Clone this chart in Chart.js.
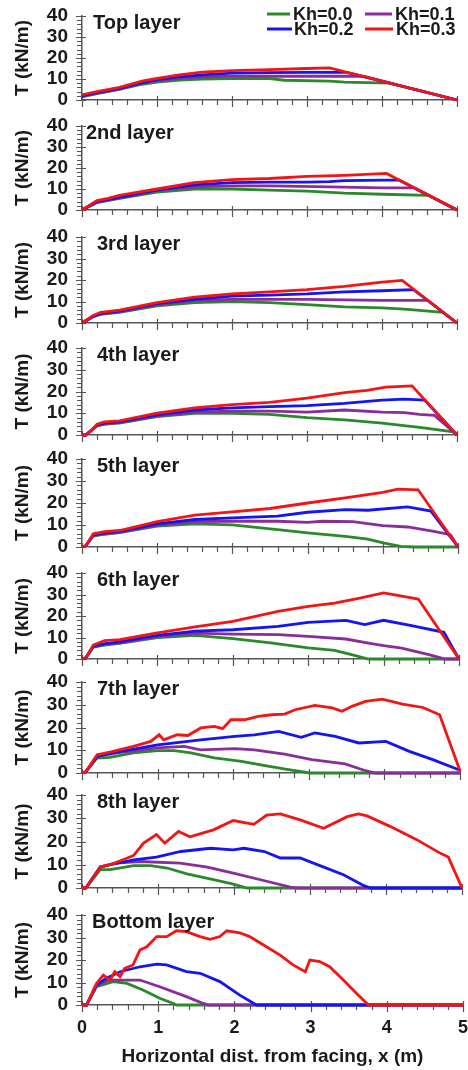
<!DOCTYPE html>
<html>
<head>
<meta charset="utf-8">
<script src="https://cdn.jsdelivr.net/npm/chart.js@4.4.1/dist/chart.umd.min.js"></script>
<style>
  html, body { margin: 0; padding: 0; background: #fff; }
  #wrap { position: relative; width: 468px; height: 1070px; overflow: hidden; }
  #wrap canvas { position: absolute; left: 0; }
</style>
</head>
<body>
<div id="wrap"></div>
<script>
// Tension T (kN/m) along each reinforcement layer, for four Kh values
const LAYERS = ['Top layer', '2nd layer', '3rd layer', '4th layer', '5th layer',
                '6th layer', '7th layer', '8th layer', 'Bottom layer'];
const KH_LABELS = ['Kh=0.0', 'Kh=0.1', 'Kh=0.2', 'Kh=0.3'];
const X_TICKS = [0, 1, 2, 3, 4, 5];
const Y_TICKS = [0, 10, 20, 30, 40];

// [x (m), T (kN/m)]
const L1_K0 = [[0,1.5],[0.2,3],[0.5,5],[0.8,7.5],[1,8.5],[1.3,9.5],[1.6,10],[2,10.2],[2.5,10.2],[2.7,9.4],[3.3,9],[3.5,8.5],[4.1,8],[5,0]];
const L1_K1 = [[0,1.8],[0.2,3.3],[0.5,5.3],[0.8,8],[1,9.2],[1.3,10.3],[1.6,11],[2,11.3],[3,11.3],[3.75,11.3],[5,0]];
const L1_K2 = [[0,2],[0.2,3.5],[0.5,5.5],[0.8,8.3],[1,9.7],[1.3,11],[1.6,12],[2,12.8],[2.5,13],[3,13.2],[3.53,13.2],[5,0]];
const L1_K3 = [[0,2.5],[0.2,4],[0.5,6],[0.8,9],[1,10.3],[1.3,12],[1.6,13.3],[2,14],[2.5,14.5],[3,15],[3.3,15.3],[5,0]];

const L2_K0 = [[0,0],[0.2,3.5],[0.5,5.5],[1,8.5],[1.5,10],[2,10],[2.5,9.5],[3,9],[3.5,8],[4,7.5],[4.62,7],[5,0]];
const L2_K1 = [[0,0],[0.2,3.8],[0.5,5.8],[1,9.3],[1.5,11],[2,11.5],[2.5,11.5],[3.3,11],[4,10.5],[4.43,10.5],[5,0]];
const L2_K2 = [[0,0],[0.2,4],[0.5,6],[1,9.5],[1.5,12],[2,13],[2.5,13.3],[3,13.3],[3.3,13.5],[3.5,14],[4,14.2],[4.23,14.2],[5,0]];
const L2_K3 = [[0,0],[0.2,4.5],[0.35,5.5],[0.5,7],[1,10],[1.5,13],[2,14.5],[2.5,15],[3,16],[3.5,16.5],[4.06,17.4],[5,0]];

const L3_K0 = [[0,0],[0.15,3],[0.25,4],[0.5,5],[1,8],[1.5,9.5],[2,10],[2.5,9.5],[3,8.5],[3.5,7.5],[4,7],[4.3,6.5],[4.81,5],[5,0]];
const L3_K1 = [[0,0],[0.15,3],[0.25,4.3],[0.5,5.3],[1,8.5],[1.5,10.5],[2,11],[3,11],[4,10.5],[4.61,10.5],[5,0]];
const L3_K2 = [[0,0],[0.15,3],[0.25,4.5],[0.5,5.5],[1,9],[1.5,11],[2,12.5],[2.5,13],[3,13.5],[3.5,14.5],[4,15],[4.42,15.5],[5,0]];
const L3_K3 = [[0,0],[0.15,3.5],[0.25,5],[0.5,6],[1,9.5],[1.5,12],[2,13.5],[2.5,14.5],[3,15.5],[3.5,17],[4,19],[4.27,19.8],[5,0]];

const L4_K0 = [[0,0],[0.05,0],[0.2,4.3],[0.3,5],[0.5,5.5],[1,8.5],[1.5,10],[2,10],[2.5,9.5],[3,8],[3.5,7],[4,5.5],[4.5,3.5],[4.95,1.5],[5,0]];
const L4_K1 = [[0,0],[0.05,0],[0.2,4.3],[0.3,5],[0.5,5.8],[1,8.8],[1.5,10.5],[2,11],[2.5,11],[3,10.5],[3.5,11.5],[4,10.5],[4.3,10.3],[4.5,9.5],[4.7,9],[5,0]];
const L4_K2 = [[0,0],[0.05,0],[0.2,4.5],[0.3,5.5],[0.5,6],[1,9.3],[1.5,11.5],[2,12.5],[2.5,13],[3,13.5],[3.5,14.5],[4,16],[4.3,16.5],[4.57,16],[5,0]];
const L4_K3 = [[0,0],[0.05,0],[0.12,2],[0.2,5],[0.3,6],[0.5,6.5],[1,10],[1.5,12.5],[2,14],[2.5,15],[3,17],[3.5,19.5],[3.8,20.5],[4.05,22],[4.4,22.6],[5,0]];

const L5_K0 = [[0,0],[0.05,0.5],[0.15,5],[0.3,5.8],[0.5,6.5],[1,9.5],[1.5,10.5],[2,10.1],[2.6,7.9],[3,6.4],[3.5,4.8],[3.8,3.6],[4.02,1.8],[4.24,0.3],[4.42,0],[5,0]];
const L5_K1 = [[0,0],[0.05,0.5],[0.15,5.3],[0.3,6],[0.5,6.8],[1,10],[1.5,11.5],[2,11.7],[2.6,11.7],[3,11.2],[3.2,11.7],[3.6,11.5],[4,9.7],[4.33,9.1],[4.68,7.1],[4.9,5.6],[5,0]];
const L5_K2 = [[0,0],[0.05,0.5],[0.15,5.5],[0.3,6.3],[0.5,7],[1,10.5],[1.5,12.5],[2,13.2],[2.6,14],[3,15.8],[3.5,17],[3.8,16.7],[4.33,18.2],[4.64,16.3],[5,0]];
const L5_K3 = [[0,0],[0.05,0.5],[0.15,6],[0.3,7],[0.5,7.5],[1,11.5],[1.5,14.5],[2,16],[2.5,17.5],[3,20],[3.5,22.3],[4,24.8],[4.2,26.3],[4.47,26],[5,0]];

const L6_K0 = [[0,0],[0.05,0.5],[0.15,5.5],[0.3,6.5],[0.5,7.3],[1,10],[1.5,11],[2,9.5],[2.5,7.5],[3,5.2],[3.35,4],[3.6,1.8],[3.8,0],[5,0]];
const L6_K1 = [[0,0],[0.05,0.5],[0.15,5.8],[0.3,7],[0.5,7.5],[1,10.5],[1.5,12],[2,11.6],[2.6,11.3],[3,10.5],[3.5,9.3],[3.8,7.4],[4,6.2],[4.24,5.1],[4.6,2],[4.82,0],[5,0]];
const L6_K2 = [[0,0],[0.05,0.5],[0.15,6],[0.3,7],[0.5,8],[1,11],[1.5,13],[2,13.6],[2.6,15.2],[3,17],[3.5,18],[3.75,16],[4,18],[4.37,15.5],[4.8,12.4],[5,0]];
const L6_K3 = [[0,0],[0.05,0.5],[0.15,6.5],[0.3,8.5],[0.5,9],[1,12.2],[1.5,14.9],[2,17.5],[2.6,22.2],[3,24.5],[3.35,26],[3.7,28.4],[4,30.7],[4.46,27.9],[5,0]];

const L7_K0 = [[0,0],[0.05,0.5],[0.2,6.6],[0.37,6.9],[0.68,8.8],[1,9.8],[1.22,9.8],[1.44,8.8],[1.75,6.6],[2.11,5.1],[2.42,3.2],[2.73,1.5],[3.02,0],[5,0]];
const L7_K1 = [[0,0],[0.05,0.5],[0.2,7.3],[0.46,8.8],[1,11],[1.35,11.7],[1.57,10.2],[2.02,10.7],[2.28,10.2],[2.68,8.3],[3.04,5.9],[3.48,4],[3.75,1],[3.88,0],[5,0]];
const L7_K2 = [[0,0],[0.05,0.5],[0.2,7.3],[0.46,9.2],[1,12.4],[1.57,14.6],[2.02,16.1],[2.28,16.8],[2.6,18.3],[2.9,15.7],[3.08,17.6],[3.35,16.1],[3.66,13.2],[4.02,13.9],[4.33,9.5],[4.64,5.9],[5,1.2]];
const L7_K3 = [[0,0],[0.05,0.5],[0.2,8],[0.37,9.2],[0.68,11.7],[0.91,13.9],[1.02,16.8],[1.08,14.6],[1.26,16.8],[1.4,16.5],[1.57,19.8],[1.75,20.5],[1.86,19.5],[1.97,23.4],[2.15,23.4],[2.33,24.9],[2.51,25.6],[2.68,25.9],[2.82,27.8],[3.08,29.7],[3.31,28.6],[3.44,27.1],[3.57,29.3],[3.75,31.5],[3.97,32.5],[4.24,30.3],[4.51,28.8],[4.73,25.6],[5,1]];

const L8_K0 = [[0,0],[0.05,0],[0.24,7.9],[0.37,7.9],[0.68,9.6],[0.9,9.6],[1.12,8.6],[1.38,6.1],[1.73,3.6],[1.99,1.7],[2.17,0],[5,0]];
const L8_K1 = [[0,0],[0.05,0],[0.24,9],[0.45,10.7],[0.76,11.4],[1.29,10.7],[1.65,9],[1.99,6.4],[2.43,2.9],[2.74,0.4],[2.83,0],[5,0]];
const L8_K2 = [[0,0],[0.05,0],[0.24,9],[0.37,10],[0.68,12.1],[0.98,13.3],[1.3,15.7],[1.69,17.1],[1.99,16.4],[2.13,17.1],[2.4,15.7],[2.61,12.9],[2.87,12.9],[3.13,9.6],[3.44,5.7],[3.71,1],[3.8,0],[5,0]];
const L8_K3 = [[0,0],[0.05,0],[0.24,9],[0.43,10.7],[0.68,14],[0.81,19.3],[0.98,23],[1.09,19.3],[1.27,24.3],[1.42,22],[1.73,25],[1.99,29],[2.26,27.4],[2.43,31.4],[2.61,31.9],[2.87,29.3],[3.18,25.7],[3.49,30.7],[3.64,31.9],[3.75,31],[4.06,26.4],[4.41,20.7],[4.71,15],[4.82,13.3],[5,0]];

const L9_K0 = [[0,0],[0.06,0],[0.19,8.1],[0.41,10.4],[0.59,9.6],[0.8,6.7],[1.02,3],[1.2,0.7],[1.24,0],[5,0]];
const L9_K1 = [[0,0],[0.06,0],[0.19,8.9],[0.37,11.1],[0.76,11.1],[1.02,8.1],[1.37,3.7],[1.59,0.7],[1.66,0],[5,0]];
const L9_K2 = [[0,0],[0.06,0],[0.19,8.9],[0.32,11.9],[0.5,14.8],[0.76,17],[0.98,18.2],[1.11,17.8],[1.37,14.8],[1.55,14.1],[1.81,10.4],[2.07,4.4],[2.29,0],[5,0]];
const L9_K3 = [[0,0],[0.06,0],[0.19,9.6],[0.28,13.3],[0.37,11.1],[0.43,14.8],[0.5,12.6],[0.56,16.3],[0.67,17.8],[0.76,24.4],[0.85,25.9],[0.98,30.4],[1.11,30.4],[1.24,33],[1.37,32.6],[1.55,30.4],[1.68,29.2],[1.81,30.4],[1.9,33],[2.07,32.1],[2.2,30.4],[2.42,25.9],[2.6,22.2],[2.77,17.8],[2.93,14.8],[2.99,20],[3.12,19.3],[3.25,17],[3.43,11.1],[3.6,5.2],[3.76,0],[5,0]];

const SERIES = [
  [L1_K0, L1_K1, L1_K2, L1_K3], [L2_K0, L2_K1, L2_K2, L2_K3], [L3_K0, L3_K1, L3_K2, L3_K3],
  [L4_K0, L4_K1, L4_K2, L4_K3], [L5_K0, L5_K1, L5_K2, L5_K3], [L6_K0, L6_K1, L6_K2, L6_K3],
  [L7_K0, L7_K1, L7_K2, L7_K3], [L8_K0, L8_K1, L8_K2, L8_K3], [L9_K0, L9_K1, L9_K2, L9_K3]
];

// layout (page pixels)
const PANEL_Y40 = [16, 126, 237, 348, 459, 573, 682, 795, 915];
const PANEL_Y0 = [100, 210, 323, 435, 547, 659, 773, 888, 1005];
const PANEL_RIGHT = [457, 457, 457, 457, 458, 459, 460, 462, 463];
const TITLE_X = [93, 86, 97, 97, 97, 97, 97, 97, 92];
const PAD_T = 14;
const AXIS_W = 82;
const COLORS = ['#2a8a2a', '#8a2c9c', '#1414f5', '#f51414'];
const INK = '#1a1a1a';
const AXIS = '#555';

Chart.defaults.font.family = '"Liberation Sans", Arial, sans-serif';
Chart.defaults.font.weight = 'bold';
Chart.defaults.color = INK;

// major/minor tick marks crossing the axes
const tickMarks = {
  id: 'tickMarks',
  beforeDatasetsDraw(chart) {
    const { ctx, scales: { x, y }, chartArea: a } = chart;
    ctx.save();
    ctx.strokeStyle = AXIS;
    ctx.lineWidth = 1.2;
    ctx.beginPath();
    for (let i = 0; i <= 25; i++) {
      const major = i % 5 === 0;
      const px = Math.round(x.getPixelForValue(i * 0.2)) + 0.5;
      ctx.moveTo(px, a.bottom + (major ? -4 : 0));
      ctx.lineTo(px, a.bottom + (major ? 7 : 5));
    }
    for (let i = 0; i <= 20; i++) {
      const major = i % 5 === 0;
      const py = Math.round(y.getPixelForValue(i * 2)) + 0.5;
      ctx.moveTo(a.left - (major ? 6 : 5), py);
      ctx.lineTo(a.left + (major ? 4 : 0), py);
    }
    ctx.stroke();
    ctx.restore();
  }
};

const panelTitle = {
  id: 'panelTitle',
  afterDraw(chart, args, opts) {
    const { ctx, chartArea: a } = chart;
    ctx.save();
    ctx.font = 'bold 20px "Liberation Sans", Arial, sans-serif';
    ctx.fillStyle = INK;
    ctx.textBaseline = 'alphabetic';
    ctx.fillText(opts.text, opts.x, a.top + 12.5);
    ctx.restore();
  }
};

// two-column legend in the top panel
const kLegend = {
  id: 'kLegend',
  afterDraw(chart) {
    const { ctx, chartArea: a } = chart;
    const slots = [
      { x1: 267, x2: 290, tx: 293, dy: -2 }, { x1: 365, x2: 392, tx: 395, dy: -2 },
      { x1: 267, x2: 292, tx: 294, dy: 13 }, { x1: 365, x2: 393, tx: 396, dy: 13 }
    ];
    ctx.save();
    ctx.font = 'bold 18px "Liberation Sans", Arial, sans-serif';
    ctx.textBaseline = 'middle';
    chart.data.datasets.forEach((ds, k) => {
      const s = slots[k];
      const yy = a.top + s.dy;
      ctx.strokeStyle = ds.borderColor;
      ctx.lineWidth = 3;
      ctx.beginPath();
      ctx.moveTo(s.x1, yy);
      ctx.lineTo(s.x2, yy);
      ctx.stroke();
      ctx.fillStyle = INK;
      ctx.fillText(ds.label, s.tx, yy + 1);
    });
    ctx.restore();
  }
};

const wrap = document.getElementById('wrap');

LAYERS.forEach((name, i) => {
  const isLast = i === LAYERS.length - 1;
  const xh = isLast ? 1070 - PANEL_Y0[i] : 12;
  const plotH = PANEL_Y0[i] - PANEL_Y40[i];
  const cv = document.createElement('canvas');
  cv.width = 468;
  cv.height = PAD_T + plotH + xh;
  cv.style.top = (PANEL_Y40[i] - PAD_T) + 'px';
  wrap.appendChild(cv);

  new Chart(cv, {
    type: 'line',
    data: {
      datasets: SERIES[i].map((pts, k) => ({
        label: KH_LABELS[k],
        data: pts.map(p => ({ x: p[0], y: p[1] })),
        borderColor: COLORS[k],
        borderWidth: 2.8,
        pointRadius: 0,
        tension: 0,
        fill: false,
        order: 3 - k,
        clip: 6
      }))
    },
    options: {
      responsive: false,
      animation: false,
      devicePixelRatio: 1,
      layout: { padding: { top: PAD_T, left: 0, right: 468 - PANEL_RIGHT[i], bottom: 0 } },
      plugins: {
        legend: { display: false },
        tooltip: { enabled: false },
        panelTitle: { text: name, x: TITLE_X[i] }
      },
      scales: {
        x: {
          type: 'linear', min: 0, max: 5,
          afterBuildTicks: s => { s.ticks = X_TICKS.map(v => ({ value: v })); },
          ticks: { display: isLast, padding: 12, autoSkip: false, maxRotation: 0, font: { size: 18, weight: 'bold' }, color: INK },
          grid: { display: false, drawTicks: false },
          border: { display: true, color: AXIS, width: 1.5 },
          title: { display: isLast, text: 'Horizontal dist. from facing, x (m)', font: { size: 19, weight: 'bold' }, color: INK, padding: { top: 2, bottom: 2 } },
          afterFit: s => { s.height = xh; s.paddingLeft = 0; s.paddingRight = 0; }
        },
        y: {
          min: 0, max: 40,
          afterBuildTicks: s => { s.ticks = Y_TICKS.map(v => ({ value: v })); },
          ticks: { padding: 14, autoSkip: false, font: { size: 19, weight: 'bold' }, color: INK },
          grid: { display: false, drawTicks: false },
          border: { display: true, color: AXIS, width: 1.5 },
          title: { display: true, text: 'T (kN/m)', font: { size: 19, weight: 'bold' }, color: INK, padding: { top: 11, bottom: 0 } },
          afterFit: s => { s.width = AXIS_W; s.paddingTop = 0; s.paddingBottom = 0; }
        }
      }
    },
    plugins: i === 0 ? [tickMarks, panelTitle, kLegend] : [tickMarks, panelTitle]
  });
});
</script>
</body>
</html>
